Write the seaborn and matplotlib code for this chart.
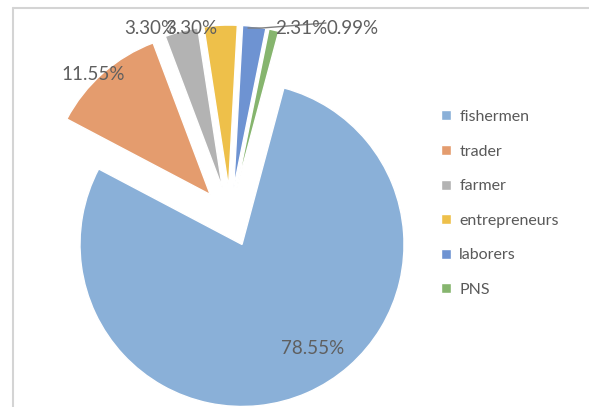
import matplotlib
matplotlib.use("Agg")
import matplotlib.pyplot as plt
from matplotlib.lines import Line2D
import numpy as np
import seaborn as sns

categories = ["fishermen", "trader", "farmer", "entrepreneurs", "laborers", "PNS"]
values = [78.55, 11.55, 3.30, 3.30, 2.31, 0.99]
pct_labels = ["78.55%", "11.55%", "3.30%", "3.30%", "2.31%", "0.99%"]
colors = ["#8AB0D8", "#E49C6E", "#B3B3B3", "#EEC04A", "#6E93D2", "#86B56E"]

sns.set_theme(style="white")
plt.rcParams["font.family"] = ["Lato", "DejaVu Sans"]
palette = sns.color_palette(colors)

W, H = 589, 407
fig = plt.figure(figsize=(W / 100, H / 100), dpi=100)
ax = fig.add_axes([0, 0, 1, 1])

R = 162.0          # pie radius in px
cx, cy = 230.0, 407 - 217.0   # pie centre in px (from bottom-left)

wedges, _ = ax.pie(values, colors=palette, startangle=75, counterclock=False,
                   explode=[0.185] * len(values), radius=1.0,
                   wedgeprops=dict(edgecolor="white", linewidth=1.0),
                   frame=False)
ax.set_xlim(-cx / R, (W - cx) / R)
ax.set_ylim(-cy / R, (H - cy) / R)
ax.set_aspect("auto")
ax.axis("off")

def px(x, y):
    """image px (from top-left) -> data"""
    return ((x - cx) / R, ((H - y) - cy) / R)

label_pos_px = [(313, 348), (93, 75), (150, 28), (191, 28), (301, 28), (353, 28)]
lab_color = "#5F5F5F"
for txt, (x, y) in zip(pct_labels, label_pos_px):
    dx, dy = px(x, y)
    ax.text(dx, dy, txt, ha="center", va="center", fontsize=13.5, color=lab_color)

# leader line for small slice
p0 = px(248, 28); p1 = px(262, 28); p2 = px(326, 23)
ax.plot([p0[0], p1[0], p2[0]], [p0[1], p1[1], p2[1]], color="#7F7F7F", lw=1.0)

leg = ax.legend(wedges, categories, loc="upper left",
                bbox_to_anchor=(441 / W, 1 - 110 / H), bbox_transform=fig.transFigure,
                frameon=False, fontsize=11.5, handlelength=0.6, handleheight=0.6,
                handletextpad=0.55, labelspacing=1.29, borderpad=0, borderaxespad=0)
for t in leg.get_texts():
    t.set_color("#595959")

# chart area border (top and left)
bc = "#D4D4D4"
fig.add_artist(Line2D([13 / W, 1.0], [1 - 8 / H, 1 - 8 / H], color=bc, lw=1.5, transform=fig.transFigure))
fig.add_artist(Line2D([13 / W, 13 / W], [0, 1 - 8 / H], color=bc, lw=1.5, transform=fig.transFigure))

fig.savefig("out.png", dpi=100)
